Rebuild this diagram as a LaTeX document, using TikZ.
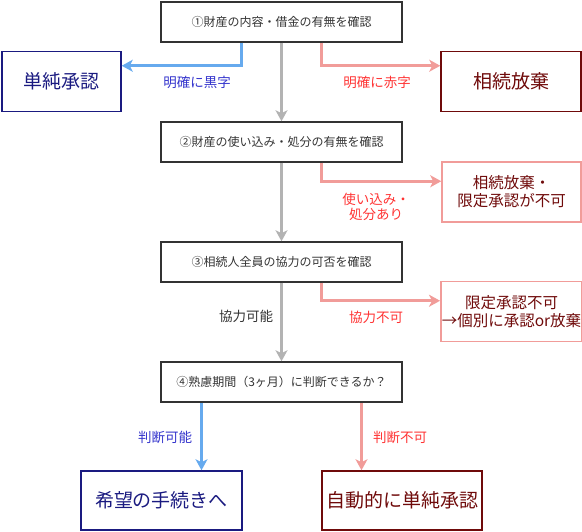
\documentclass[tikz,border=0pt]{standalone}
\usepackage{fontspec}
\setmainfont{Noto Sans CJK JP}
\usetikzlibrary{arrows.meta,positioning}

\definecolor{boxgray}{HTML}{333333}
\definecolor{okdark}{HTML}{1A1A80}
\definecolor{ngdark}{HTML}{6F0A0A}
\definecolor{nglight}{HTML}{F19C99}
\definecolor{okline}{HTML}{66AAEE}
\definecolor{ngline}{HTML}{F19C99}
\definecolor{goline}{HTML}{B3B3B3}
\definecolor{oklbl}{HTML}{3333CC}
\definecolor{nglbl}{HTML}{FF3333}

\tikzset{
  stepbox/.style={draw=boxgray, line width=1.5pt, minimum width=241pt,
    minimum height=40pt, text=boxgray, inner sep=2pt,
    font=\fontsize{12pt}{14pt}\selectfont},
  okbox/.style={draw=okdark, line width=1.5pt, minimum height=60pt,
    text=okdark, inner sep=2pt, font=\fontsize{19pt}{23pt}\selectfont},
  ngbox/.style={draw=ngdark, line width=1.5pt, minimum height=60pt,
    text=ngdark, inner sep=2pt, font=\fontsize{19pt}{23pt}\selectfont},
  warnbox/.style={draw=nglight, line width=1.5pt, minimum width=139pt,
    minimum height=60pt, text=ngdark, align=center, inner sep=1pt,
    font=\fontsize{15.5pt}{18pt}\selectfont},
  flow/.style={line width=3pt, -{Stealth[length=11pt,width=12pt,inset=3pt]}},
  lbl/.style={align=center, font=\fontsize{13.5pt}{15pt}\selectfont},
}

\begin{document}
\begin{tikzpicture}[x=1pt,y=-1pt]
  \useasboundingbox (0,0) rectangle (582,532);

  % steps
  \node[stepbox] (s1) at (281.5,22) {①財産の内容・借金の有無を確認};
  \node[stepbox] (s2) at (281.5,142) {②財産の使い込み・処分の有無を確認};
  \node[stepbox] (s3) at (281.5,262) {③相続人全員の協力の可否を確認};
  \node[stepbox] (s4) at (281.5,382) {④熟慮期間（3ヶ月）に判断できるか？};

  % results
  \node[okbox, minimum width=119pt] (tanjun) at (61.5,81.5) {単純承認};
  \node[ngbox, minimum width=140pt] (houki) at (511,81.5) {相続放棄};
  \node[warnbox] (fuka1) at (511.5,192) {相続放棄・\\限定承認が不可};
  \node[warnbox] (fuka2) at (511.5,311.5) {限定承認不可\\→個別に承認or放棄};
  \node[okbox, minimum width=161pt, minimum height=59pt] (kibou) at (161.5,500.5) {希望の手続きへ};
  \node[ngbox, minimum width=160pt, minimum height=59pt] (jidou) at (402,500.5) {自動的に単純承認};

  % branch starts
  \coordinate (b1l) at ([xshift=-40pt]s1.south);
  \coordinate (b1r) at ([xshift=40pt]s1.south);
  \coordinate (b2r) at ([xshift=40pt]s2.south);
  \coordinate (b3r) at ([xshift=40pt]s3.south);
  \coordinate (b4l) at ([xshift=-80pt]s4.south);
  \coordinate (b4r) at ([xshift=80pt]s4.south);

  % main line
  \draw[flow, goline] (s1) -- (s2);
  \draw[flow, goline] (s2) -- (s3);
  \draw[flow, goline] (s3) -- (s4);

  % branches
  \draw[flow, okline] (b1l) |- ([yshift=-15pt]tanjun.north east);
  \draw[flow, ngline] (b1r) |- ([yshift=-15pt]houki.north west);
  \draw[flow, ngline] (b2r) |- ([yshift=-20pt]fuka1.north west);
  \draw[flow, ngline] (b3r) |- ([yshift=-20pt]fuka2.north west);
  \draw[flow, okline] (b4l) -- (kibou.north -| b4l);
  \draw[flow, ngline] (b4r) -- (jidou.north -| b4r);

  % labels
  \node[lbl, text=oklbl] (l1) at (197,82) {明確に黒字};
  \node[lbl, text=nglbl] (l2) at (377,82) {明確に赤字};
  \node[lbl, text=nglbl] (l3) at (376,207) {使い込み・\\処分あり};
  \node[lbl, text=nglbl] (l4) at (376,317) {協力不可};
  \node[lbl, text=boxgray] (l5) at (246,316) {協力可能};
  \node[lbl, text=oklbl] (l6) at (165,437) {判断可能};
  \node[lbl, text=nglbl] (l7) at (400,437) {判断不可};
\end{tikzpicture}
\end{document}
